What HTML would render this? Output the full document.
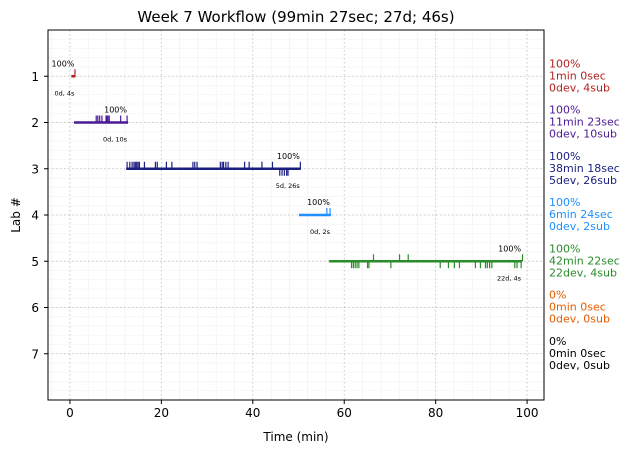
<!DOCTYPE html>
<html><head><meta charset="utf-8"><style>
body{margin:0;background:#fff;}
svg{display:block;font-family:"DejaVu Sans","Liberation Sans",sans-serif;}
</style></head><body>
<svg id="chart" width="630" height="453" viewBox="0 0 630 453">
<text x="296" y="22" text-anchor="middle" font-size="15">Week 7 Workflow (99min 27sec; 27d; 46s)</text>
<g id="grid"></g><g id="marks"></g><g id="axes"></g><g id="notes"></g>
</svg>
<script>
const labs=[1,2,3,4,5,6,7];
const colors=["#b22222","#4b1a96","#1c1f80","#1e90ff","#2a8c2a","#e65c00","#000000"];
const lineStart=[0.3,0.9,12.3,50.1,56.7];
const lineEnd=[1.2,12.7,50.5,57.1,98.9];
const upTicks=[[1.1],[5.75,6.1,6.5,7.0,7.9,8.1,8.3,8.6,11.1,12.5],
[12.5,13.1,13.6,14.0,14.3,14.6,14.9,15.2,16.3,18.7,19.1,21.1,22.3,26.9,27.3,27.8,32.9,33.3,33.6,34.1,34.6,38.2,39.2,42.0,44.3,50.4],
[56.2,56.9],[66.4,72.1,74.0,99.0]];
const downTicks=[[],[],[45.9,46.4,46.9,47.4,47.7],[],
[61.6,62.0,62.4,62.8,63.2,65.1,65.4,70.2,81.0,82.8,84.1,85.2,88.7,89.8,90.9,91.3,91.8,92.3,97.3,97.8,98.7]];
const pctLabels=["100%","100%","100%","100%","100%"];
const durLabels=["0d, 4s","0d, 10s","5d, 26s","0d, 2s","22d, 4s"];
const notes=[["100%","1min 0sec","0dev, 4sub"],["100%","11min 23sec","0dev, 10sub"],["100%","38min 18sec","5dev, 26sub"],["100%","6min 24sec","0dev, 2sub"],["100%","42min 22sec","22dev, 4sub"],["0%","0min 0sec","0dev, 0sub"],["0%","0min 0sec","0dev, 0sub"]];
const xTicks=[0,20,40,60,80,100];
const yTicks=[1,2,3,4,5,6,7];

const L=48,R=544,T=30,B=400,xmin=-4.8,xmax=103.7,ymin=0,ymax=8;
const X=v=>L+(v-xmin)/(xmax-xmin)*(R-L);
const Y=v=>T+(v-ymin)/(ymax-ymin)*(B-T);
const NS="http://www.w3.org/2000/svg";
function mk(tag,attrs,parent,txt){const e=document.createElementNS(NS,tag);for(const k in attrs)e.setAttribute(k,attrs[k]);if(txt!==undefined)e.textContent=txt;document.getElementById(parent).appendChild(e);return e;}
// minor grid
for(let v=-4;v<=102;v+=4){if(v%20===0)continue;const e=mk('line',{x1:X(v),x2:X(v),y1:T,y2:B,stroke:'#f2f2f2','stroke-width':0.8},'grid');
}
for(let v=0.2;v<8;v+=0.2){const e=mk('line',{x1:L,x2:R,y1:Y(v),y2:Y(v),stroke:'#f4f4f4','stroke-width':0.8},'grid');
}
xTicks.forEach(v=>{const e=mk('line',{x1:X(v),x2:X(v),y1:T,y2:B,stroke:'#bbb','stroke-width':0.8,'stroke-dasharray':'1.5,2.5'},'grid');

const t=mk('line',{x1:X(v),x2:X(v),y1:B,y2:B+4,stroke:'#000'},'axes');
const l=mk('text',{x:X(v),y:B+17,'text-anchor':'middle','font-size':12},'axes',String(v));});
yTicks.forEach(v=>{const e=mk('line',{x1:L,x2:R,y1:Y(v),y2:Y(v),stroke:'#bbb','stroke-width':0.8,'stroke-dasharray':'1.5,2.5'},'grid');

const t=mk('line',{x1:L-4,x2:L,y1:Y(v),y2:Y(v),stroke:'#000'},'axes');
const l=mk('text',{x:L-9,y:Y(v)+4.5,'text-anchor':'end','font-size':12},'axes',String(v));});
const fr=mk('rect',{x:L,y:T,width:R-L,height:B-T,fill:'none',stroke:'#000','stroke-width':1},'axes');

const xt=mk('text',{x:(L+R)/2,y:441,'text-anchor':'middle','font-size':12},'axes','Time (min)');

const yt=mk('text',{x:20,y:(T+B)/2,'text-anchor':'middle','font-size':12,transform:`rotate(-90 20 ${(T+B)/2})`},'axes','Lab #');

lineStart.forEach((s,i)=>{const y=Y(labs[i]),c=colors[i];
const ln=mk('line',{x1:X(s),x2:X(lineEnd[i]),y1:y,y2:y,stroke:c,'stroke-width':2.5},'marks');

upTicks[i].forEach(v=>{const t=mk('line',{x1:X(v),x2:X(v),y1:y,y2:y-7,stroke:c,'stroke-width':1.2},'marks');
});
downTicks[i].forEach(v=>{const t=mk('line',{x1:X(v),x2:X(v),y1:y,y2:y+7,stroke:c,'stroke-width':1.2},'marks');
});
const p=mk('text',{x:X(lineEnd[i])-1,y:y-10,'text-anchor':'end','font-size':8},'marks',pctLabels[i]);

const d=mk('text',{x:X(lineEnd[i])-1,y:y+19,'text-anchor':'end','font-size':6.5},'marks',durLabels[i]);
});
notes.forEach((n,i)=>{const y0=Y(labs[i])-9;n.forEach((s,j)=>{const t=mk('text',{x:549,y:y0+j*12,'font-size':11,fill:colors[i]},'notes',s);
});});
</script>
</body></html>
